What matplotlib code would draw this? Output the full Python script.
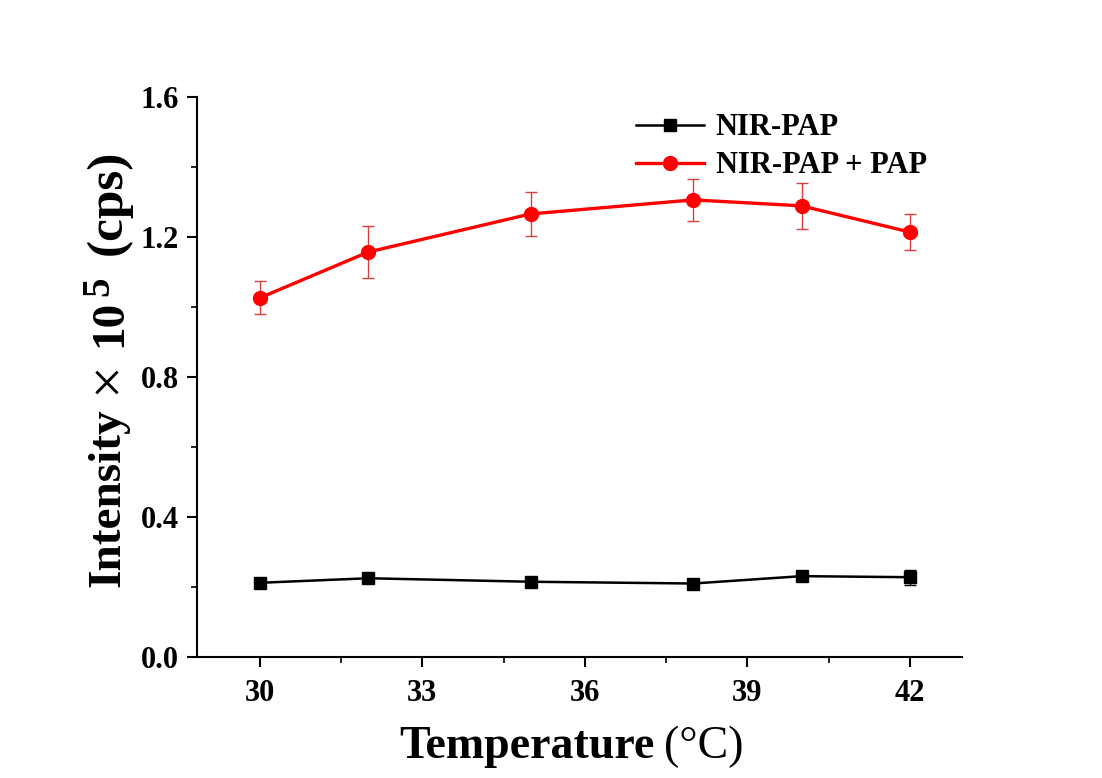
import matplotlib
matplotlib.use('Agg')
import matplotlib.pyplot as plt
from matplotlib.ticker import MultipleLocator

plt.rcParams['font.family'] = ['Liberation Serif', 'DejaVu Serif']

# temperature (°C)
temp = [30, 32, 35, 38, 40, 42]

# NIR-PAP
nir = [0.212, 0.225, 0.215, 0.210, 0.231, 0.228]
nir_err = [0.008, 0.010, 0.008, 0.008, 0.010, 0.022]

# NIR-PAP + PAP
nir_pap = [1.026, 1.157, 1.266, 1.306, 1.289, 1.214]
nir_pap_err = [0.047, 0.075, 0.064, 0.060, 0.065, 0.052]

W, H = 1102, 778
fig = plt.figure(figsize=(W / 100, H / 100), dpi=100)
ax = fig.add_axes([197 / W, 1 - 657 / H, 765 / W, 560 / H])

c1 = ax.errorbar(temp, nir, yerr=nir_err, color='black', marker='s', markersize=8,
                 linewidth=1.8, elinewidth=1, capsize=4)
c2 = ax.errorbar(temp, nir_pap, yerr=nir_pap_err, color='red', marker='o', markersize=10,
                 linewidth=2.4, ecolor='#d84040', elinewidth=1, capsize=4)

ax.set_xlim(28.84, 42.96)
ax.set_ylim(0, 1.6)
ax.xaxis.set_major_locator(MultipleLocator(3))
ax.xaxis.set_minor_locator(MultipleLocator(1.5))
ax.yaxis.set_minor_locator(MultipleLocator(0.2))
ax.set_yticks([0.0, 0.4, 0.8, 1.2, 1.6])
ax.set_yticklabels(['0.0', '0.4', '0.8', '1.2', '1.6'])

ax.spines['top'].set_visible(False)
ax.spines['right'].set_visible(False)
ax.spines['left'].set_linewidth(1.5)
ax.spines['bottom'].set_linewidth(1.5)
ax.tick_params(which='major', direction='out', length=7, width=1.5, labelsize=22, pad=6)
ax.tick_params(axis='x', which='major', pad=9)
ax.tick_params(which='minor', direction='out', length=4, width=1.2)
for lab in ax.get_xticklabels() + ax.get_yticklabels():
    lab.set_fontweight('bold')

# x label: bold word, regular unit
fig.text(655 / W, 1 - 758 / H, 'Temperature', fontsize=33, fontweight='bold',
         ha='right', va='baseline')
fig.text(664 / W, 1 - 758 / H, '(°C)', fontsize=33, ha='left', va='baseline')

# y label: pieces stacked bottom to top, each placed after the previous one
renderer = fig.canvas.get_renderer()
pieces = [
    # text, size, weight, x (px), gap before (px)
    ('Intensity', 34, 'bold', 108, 0),
    ('×', 42, 'normal', 109, 14),
    ('10', 34, 'bold', 110, 14),
    ('5', 28, 'bold', 99, 4),
    ('(cps)', 37, 'bold', 109, 22),
]
y = 587
for txt, size, weight, xpx, gap in pieces:
    y -= gap
    t = fig.text(xpx / W, 1 - y / H, txt, fontsize=size, fontweight=weight,
                 rotation=90, ha='center', va='bottom')
    bb = t.get_window_extent(renderer)
    y = H - bb.y1

ax.legend([c1[0], c2[0]], ['NIR-PAP', 'NIR-PAP + PAP'], loc='upper right',
          bbox_to_anchor=(0.99, 1.02), frameon=False,
          prop={'weight': 'bold', 'size': 22}, handlelength=2.2,
          handletextpad=0.4, labelspacing=0.3)

fig.savefig('out.png', dpi=100)
